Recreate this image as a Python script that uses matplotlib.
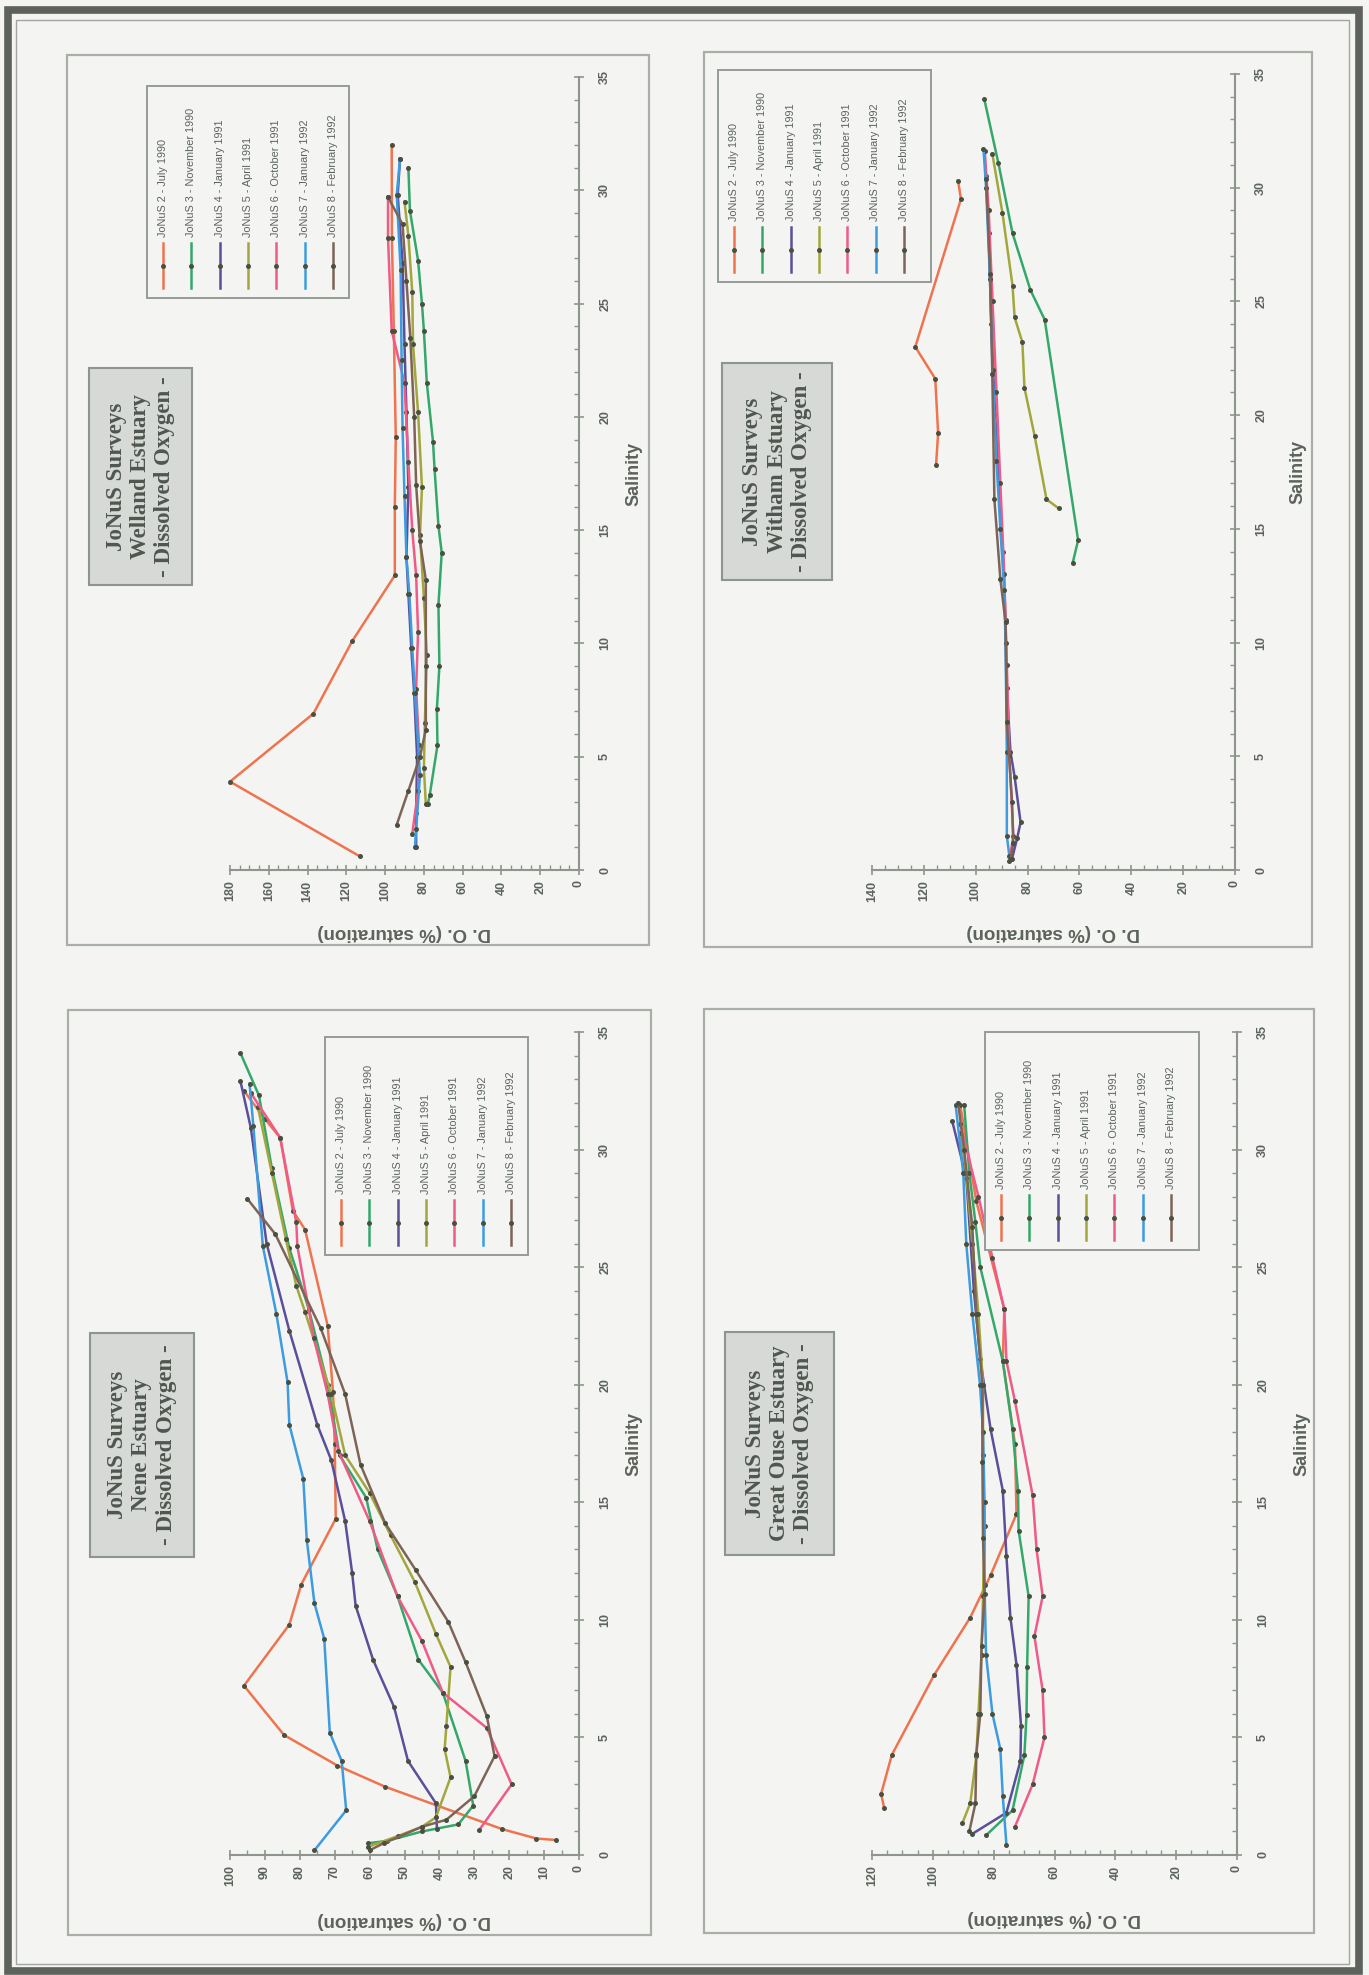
import matplotlib
matplotlib.use("Agg")
import matplotlib.pyplot as plt
from matplotlib.lines import Line2D
from matplotlib.patches import Rectangle
from matplotlib.ticker import MultipleLocator

W, H, DPI = 1369, 1975, 100

# ---------------------------------------------------------------- data
survey_labels = [
    "JoNuS 2 - July 1990",
    "JoNuS 3 - November 1990",
    "JoNuS 4 - January 1991",
    "JoNuS 5 - April 1991",
    "JoNuS 6 - October 1991",
    "JoNuS 7 - January 1992",
    "JoNuS 8 - February 1992",
]
survey_colors = ["#f0734f", "#34a86a", "#5b4e9a", "#a3a63c",
                 "#ef5a86", "#3d9be0", "#7d6456"]

# Welland Estuary: salinity and D.O. (% saturation) per survey
welland_sal = [
    [0.6, 3.9, 6.9, 10.1, 13.0, 16.0, 19.1, 23.8, 27.9, 32.0],
    [2.9, 3.3, 5.5, 7.1, 9.0, 11.7, 14.0, 15.2, 17.7, 18.9, 21.5, 23.8, 25.0, 26.9, 29.1, 31.0],
    [1.0, 2.5, 5.0, 7.8, 9.8, 12.2, 13.8, 16.9, 20.2, 23.2, 26.8, 29.8, 31.4],
    [2.9, 4.5, 6.5, 9.5, 12.0, 14.8, 16.9, 20.2, 23.2, 25.5, 28.0, 29.5],
    [1.6, 3.5, 5.5, 8.0, 10.5, 13.0, 15.0, 18.0, 21.5, 23.8, 27.9, 29.7],
    [1.0, 1.8, 4.2, 7.8, 9.8, 12.2, 13.8, 16.5, 19.5, 22.5, 26.5, 29.8, 31.4],
    [2.0, 3.5, 5.0, 6.2, 9.0, 12.8, 14.5, 17.0, 20.0, 23.5, 26.0, 28.5, 29.7],
]
welland_do = [
    [113, 180, 137, 117, 95, 95, 94.5, 95.5, 96.5, 96.6],
    [78, 77, 73, 73.3, 72, 72.5, 70.8, 72.5, 74.5, 75.3, 78.5, 80, 81, 83, 87.2, 88],
    [84, 84, 83.5, 85, 86.5, 88, 89, 88, 89, 90, 91, 93.5, 92.3],
    [79, 80, 79.5, 78.5, 80, 82, 81, 83, 85.6, 86, 88, 90],
    [86, 83, 82.5, 84, 83, 84, 86, 88, 90, 96.6, 98.5, 98.5],
    [84.6, 84, 82, 84.6, 86, 87.5, 89, 90, 91, 91.5, 92, 94, 92.3],
    [94, 88, 82, 79, 79, 79, 82, 84, 85, 87, 89, 91, 98.5],
]

# Witham Estuary
witham_sal = [
    [17.8, 19.2, 21.6, 23.0, 29.5, 30.3],
    [13.5, 14.5, 24.2, 25.5, 28.0, 31.1, 33.9],
    [0.5, 1.4, 2.1, 4.1, 5.2, 8.0, 11.0, 14.0, 17.0, 20.0, 24.0, 28.0, 30.5],
    [15.9, 16.3, 19.1, 21.2, 23.2, 24.3, 25.7, 28.9, 31.5],
    [0.4, 1.5, 5.0, 9.0, 13.0, 17.0, 21.0, 25.0, 29.0, 31.6],
    [0.6, 1.5, 5.2, 10.0, 12.3, 15.0, 18.0, 22.0, 26.0, 30.0, 31.7],
    [0.5, 1.2, 3.0, 6.5, 10.9, 12.8, 16.3, 21.8, 26.2, 30.4],
]
witham_do = [
    [115.3, 114.5, 115.6, 123.3, 105.7, 106.8],
    [62.6, 60.5, 73.4, 78.9, 85.8, 91.3, 96.7],
    [86, 84, 82.7, 85, 86.6, 88, 88.5, 89.5, 91, 92.5, 94, 95, 96],
    [68, 72.7, 77.3, 81.2, 82, 85, 85.8, 89.7, 93.6],
    [87, 85.5, 87, 88, 89, 90.5, 92, 93.5, 95, 96.5],
    [87, 88, 88, 88.5, 89, 90.5, 92, 93.5, 94.5, 96, 97],
    [86.5, 85.5, 86, 88, 88.5, 90.5, 92.8, 93.6, 94.4, 96],
]

# Nene Estuary
nene_sal = [
    [0.64, 0.7, 1.1, 2.9, 3.8, 5.1, 7.2, 9.8, 11.5, 14.3, 17.5, 19.7, 22.5, 26.6, 27.4, 30.5, 31.3, 32.5],
    [0.5, 0.6, 1.0, 1.3, 2.1, 4.0, 6.9, 8.3, 11.0, 13.0, 15.2, 17.0, 20.0, 23.2, 25.8, 29.2, 32.3, 34.1],
    [1.1, 2.2, 4.0, 6.3, 8.3, 10.6, 12.0, 14.2, 16.8, 18.3, 22.3, 26.0, 30.9, 32.9],
    [0.35, 0.8, 1.2, 1.6, 3.3, 4.5, 5.5, 8.0, 9.4, 11.6, 13.6, 15.4, 17.0, 19.6, 23.1, 24.2, 26.2, 29.0, 31.8],
    [1.06, 3.0, 5.4, 6.9, 9.1, 11.0, 14.2, 17.2, 19.6, 22.0, 25.9, 26.9, 30.5, 32.4],
    [0.2, 1.9, 4.0, 5.2, 9.2, 10.7, 13.4, 16.0, 18.3, 20.1, 23.0, 25.9, 31.0, 32.8],
    [0.2, 0.5, 1.2, 1.5, 2.5, 4.2, 5.9, 8.2, 9.9, 12.1, 14.1, 16.6, 19.6, 22.4, 26.4, 27.9],
]
nene_do = [
    [6.7, 12.2, 22, 55.5, 69.2, 84.5, 96, 83, 79.6, 69.7, 70, 70.5, 72, 78.5, 82, 85.6, 90, 96],
    [60.4, 55, 45, 34.6, 30.3, 32.5, 39, 46, 52, 57.7, 61, 68.6, 72, 77.4, 83, 88, 91.7, 97],
    [40.7, 41, 49, 53, 59, 64, 65, 67, 71, 75, 83, 89.5, 94, 97],
    [60.4, 52, 45, 41, 36.8, 38.5, 38, 36.8, 41, 47, 54, 60, 67, 71, 78.5, 81, 84, 88, 92],
    [28.6, 19.3, 26.4, 39, 45, 52, 60, 69, 72, 76, 80.7, 81, 85.6, 94],
    [75.8, 66.7, 68, 71.4, 73, 75.8, 78, 79, 83, 83.5, 86.7, 90.6, 93.3, 94.4],
    [60, 56, 45, 38, 30, 24.2, 26.4, 32.5, 37.4, 46.7, 55.5, 62.6, 67, 74, 87, 95],
]

# Great Ouse Estuary
ouse_sal = [
    [2.0, 2.6, 4.25, 7.65, 10.1, 11.9, 14.5, 17.5, 21.0, 23.2, 27.8, 31.9],
    [0.85, 1.9, 4.25, 5.95, 8.0, 11.0, 13.8, 15.5, 18.1, 21.0, 25.0, 26.9, 29.0, 31.9],
    [0.9, 1.8, 4.0, 5.5, 8.1, 10.1, 12.7, 15.5, 18.1, 21.1, 24.0, 28.8, 31.2],
    [1.35, 2.2, 4.2, 6.0, 8.5, 11.0, 14.0, 17.0, 20.0, 23.0, 26.0, 29.0, 30.7],
    [1.2, 3.0, 5.0, 7.0, 9.3, 11.0, 13.0, 15.3, 19.3, 21.0, 23.2, 25.4, 28.0, 31.1],
    [0.43, 2.5, 4.5, 6.0, 8.5, 11.5, 15.0, 18.0, 20.0, 23.0, 26.0, 29.0, 31.9],
    [1.0, 2.2, 4.3, 6.0, 8.9, 11.1, 13.5, 16.7, 20.0, 23.0, 26.7, 30.0, 32.0],
]
ouse_do = [
    [116, 117, 113.5, 99.6, 87.7, 81, 72.5, 73, 77, 76.5, 85.7, 91],
    [82.4, 73.8, 69.9, 69.2, 69, 68.5, 71.8, 72, 73.8, 77, 84.4, 86, 88, 89.7],
    [87, 75.8, 71.2, 71, 72.5, 74.5, 75.8, 77, 81, 84.4, 86.5, 89, 93.6],
    [90.3, 87.7, 85.7, 85, 84, 83.5, 83, 83.5, 83.5, 85, 87, 89, 91],
    [73, 67.2, 63.3, 63.9, 66.6, 63.9, 65.9, 67.2, 73, 75.8, 76.5, 80.4, 85, 91],
    [75.8, 77, 77.8, 80.4, 82.5, 83, 83, 83.5, 84.5, 87, 89, 90, 92.5],
    [88, 86, 85.7, 84.4, 84, 83, 83.5, 83.7, 83.7, 85.7, 87, 89.7, 91.7],
]

# ---------------------------------------------------------------- styling
PAPER = "#f4f5f2"
INK = "#5c635d"
AXIS = "#8d958d"
FRAME = "#a9aea9"
SANS = ["Liberation Sans", "DejaVu Sans"]
SERIF = ["Liberation Serif", "DejaVu Serif"]

plt.rcParams["font.family"] = SANS

fig = plt.figure(figsize=(W / DPI, H / DPI), dpi=DPI, facecolor=PAPER)


def fx(x):
    return x / W


def fy(y):
    return 1 - y / H


def rect(x0, y0, x1, y1, **kw):
    r = Rectangle((fx(x0), fy(y1)), fx(x1) - fx(x0), fy(y0) - fy(y1),
                  transform=fig.transFigure, **kw)
    fig.add_artist(r)
    return r


# page border
rect(8, 10, 1359, 1971, fill=False, edgecolor="#5d625d", linewidth=5.5)
rect(16, 20, 1349, 1964, fill=False, edgecolor="#a0a5a0", linewidth=1.0)

panels = [
    # name, sal, do, frame, plot box (left, top, right, bottom), do max, do major,
    # title box, legend box, salinity label x, do label y
    dict(name="Welland Estuary", sal=welland_sal, do=welland_do,
         frame=(67, 55, 649, 945), plot=(230, 77, 579, 870), dmax=180, dmaj=20,
         title=(89, 368, 192, 585), legend=(147, 86, 349, 298),
         sal_x=634, do_y=933),
    dict(name="Witham Estuary", sal=witham_sal, do=witham_do,
         frame=(704, 52, 1312, 947), plot=(872, 74, 1235, 870), dmax=140, dmaj=20,
         title=(722, 363, 832, 580), legend=(718, 70, 931, 282),
         sal_x=1298, do_y=932),
    dict(name="Nene Estuary", sal=nene_sal, do=nene_do,
         frame=(68, 1010, 651, 1935), plot=(230, 1032, 579, 1855), dmax=100, dmaj=10,
         title=(90, 1333, 194, 1557), legend=(325, 1037, 528, 1255),
         sal_x=634, do_y=1920),
    dict(name="Great Ouse Estuary", sal=ouse_sal, do=ouse_do,
         frame=(704, 1009, 1314, 1933), plot=(872, 1032, 1237, 1855), dmax=120, dmaj=20,
         title=(725, 1332, 834, 1555), legend=(985, 1032, 1199, 1250),
         sal_x=1302, do_y=1918),
]

for p in panels:
    # panel frame
    rect(*p["frame"], fill=False, edgecolor=FRAME, linewidth=1.6, zorder=1)

    l, t, r, b = p["plot"]
    ax = fig.add_axes([fx(l), fy(b), fx(r) - fx(l), fy(t) - fy(b)])
    ax.set_facecolor("none")

    for sal, do, col in zip(p["sal"], p["do"], survey_colors):
        ax.plot(do, sal, color=col, linewidth=1.8, marker="o", markersize=3.6,
                markerfacecolor="#4a5040", markeredgewidth=0, clip_on=False)

    # D.O. runs right-to-left, salinity bottom-to-top
    ax.set_xlim(p["dmax"], 0)
    ax.set_ylim(0, 35)
    for s in ("top", "left"):
        ax.spines[s].set_visible(False)
    for s in ("right", "bottom"):
        ax.spines[s].set_color(AXIS)
        ax.spines[s].set_linewidth(1.5)

    ax.yaxis.tick_right()
    ax.yaxis.set_major_locator(MultipleLocator(5))
    ax.yaxis.set_minor_locator(MultipleLocator(1))
    ax.xaxis.set_major_locator(MultipleLocator(p["dmaj"]))
    ax.xaxis.set_minor_locator(MultipleLocator(5))
    ax.tick_params(which="major", direction="inout", length=7, width=1.2,
                   color=AXIS, labelcolor=INK, labelsize=9)
    ax.tick_params(which="minor", direction="in", length=3.5, width=1.0,
                   color=AXIS)
    ax.tick_params(axis="y", which="major", pad=11)
    ax.tick_params(axis="x", which="major", pad=4)
    for lab in ax.get_xticklabels() + ax.get_yticklabels():
        lab.set_rotation(90)
        lab.set_fontweight("bold")
    for lab in ax.get_yticklabels():
        lab.set_va("center")

    # axis titles
    fig.text(fx(p["sal_x"]), fy((t + b) / 2), "Salinity", rotation=90,
             ha="center", va="center", fontsize=13, fontweight="bold", color=INK)
    fig.text(fx((l + r) / 2), fy(p["do_y"]), "D. O. (% saturation)",
             rotation=180, ha="center", va="center", fontsize=13.5,
             fontweight="bold", color=INK)

    # title box
    tx0, ty0, tx1, ty1 = p["title"]
    rect(tx0, ty0, tx1, ty1, facecolor="#d6d9d6", edgecolor="#8e958e",
         linewidth=1.5, zorder=2)
    fig.text(fx((tx0 + tx1) / 2), fy((ty0 + ty1) / 2),
             "JoNuS Surveys\n" + p["name"] + "\n- Dissolved Oxygen -",
             rotation=90, ha="center", va="center", multialignment="center",
             fontsize=16.5, fontweight="bold", family=SERIF, color="#4f5650",
             linespacing=1.2, zorder=3)

    # legend, drawn in the same rotated sense as the chart
    lx0, ly0, lx1, ly1 = p["legend"]
    rect(lx0, ly0, lx1, ly1, facecolor=PAPER, edgecolor="#959c95",
         linewidth=1.4, zorder=2)
    for i, (lab, col) in enumerate(zip(survey_labels, survey_colors)):
        cx = lx0 + 16 + i * 28.3
        seg_top, seg_bot = ly1 - 55, ly1 - 10
        fig.add_artist(Line2D([fx(cx)] * 3,
                              [fy(seg_top), fy((seg_top + seg_bot) / 2), fy(seg_bot)],
                              transform=fig.transFigure, color=col, linewidth=1.8,
                              marker="o", markersize=3.6, markevery=[1],
                              markerfacecolor="#4a5040", markeredgewidth=0,
                              zorder=3))
        fig.text(fx(cx), fy(seg_top - 6), lab, rotation=90, ha="center",
                 va="bottom", fontsize=7.8, color=INK, zorder=3)

fig.savefig("out.png", dpi=DPI, facecolor=PAPER)
